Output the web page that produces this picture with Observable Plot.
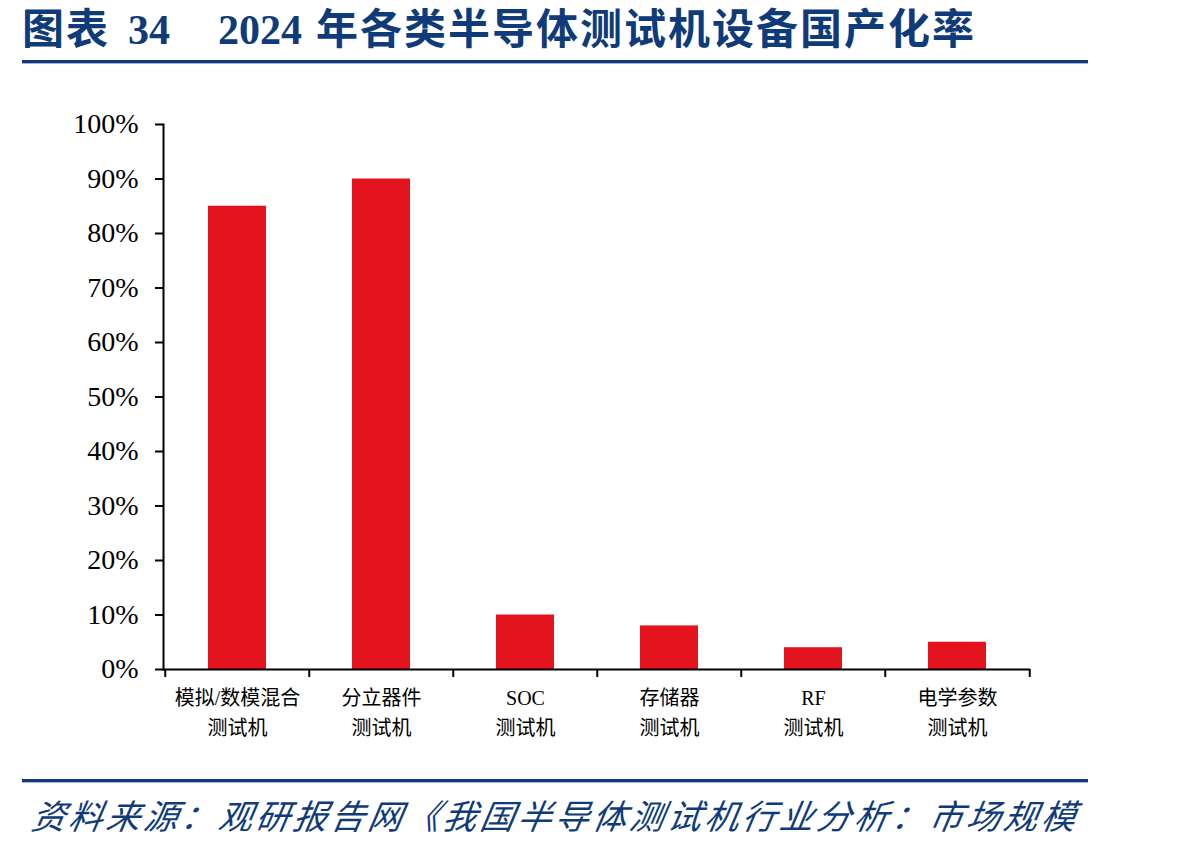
<!DOCTYPE html>
<html>
<head>
<meta charset="utf-8">
<script src="https://cdn.jsdelivr.net/npm/d3@7"></script>
<script src="https://cdn.jsdelivr.net/npm/@observablehq/plot@0.6"></script>
<style>
  body { margin:0; background:#fff; }
  #page { position:relative; width:1198px; height:849px; overflow:hidden; background:#fff; }
  .title { position:absolute; left:22px; top:2px; font-family:"Liberation Serif","Noto Sans CJK SC",serif; font-weight:bold; font-size:42px; color:#0F3B78; white-space:pre; line-height:56px; }
  .title .cjk { letter-spacing:2px; }
  .rule { position:absolute; left:22px; width:1066px; height:3px; background:#0D3A7A; border-bottom:1px solid #A9B8D2; }
  .foot { position:absolute; left:28px; top:790px; font-family:"Noto Sans CJK SC",sans-serif; font-style:italic; font-size:34px; letter-spacing:3.4px; color:#0F3B78; white-space:pre; line-height:50px; transform:skewX(-10deg); transform-origin:left bottom; }
  #chart { position:absolute; left:0; top:80px; }
</style>
</head>
<body>
<div id="page">
  <div class="title"><span class="cjk">图表</span><span style="margin-left:18px">34</span><span style="margin-left:48px">2024</span><span class="cjk" style="margin-left:14px">年各类半导体测试机设备国产化率</span></div>
  <div class="rule" style="top:60px"></div>
  <div id="chart"></div>
  <div class="rule" style="top:779px"></div>
  <div class="foot">资料来源：观研报告网《我国半导体测试机行业分析：市场规模</div>
</div>
<script>
const categories = ["模拟/数模混合\n测试机", "分立器件\n测试机", "SOC\n测试机", "存储器\n测试机", "RF\n测试机", "电学参数\n测试机"];
const values = [0.85, 0.90, 0.10, 0.08, 0.04, 0.05];
const yTicks = [0, 0.1, 0.2, 0.3, 0.4, 0.5, 0.6, 0.7, 0.8, 0.9, 1.0];

const data = categories.map((c, i) => ({cat: c, value: values[i]}));

const W = 1198, ML = 163, MR = 168;
const step = (W - ML - MR) / categories.length;

const chart = Plot.plot({
  width: W,
  height: 670,
  marginLeft: ML,
  marginRight: MR,
  marginTop: 44,
  marginBottom: 81,
  style: {color: "#000", background: "transparent"},
  x: {domain: categories, paddingInner: 0.6, paddingOuter: 0.3, label: null},
  y: {domain: [0, 1], label: null},
  marks: [
    Plot.barY(data, {x: "cat", y: "value", fill: "#E3141E"}),
    Plot.axisY({ticks: yTicks, tickSize: 8, tickPadding: 17, strokeWidth: 2,
      tickFormat: d3.format(".0%"), fontSize: 28, fontFamily: "Liberation Serif, serif", label: null}),
    Plot.frame({anchor: "left", stroke: "#000", strokeWidth: 2}),
    Plot.ruleY([0], {stroke: "#000", strokeWidth: 2}),
    Plot.axisX({tickSize: 8, strokeWidth: 2, text: null, dx: -step / 2, label: null}),
    Plot.axisX({ticks: [categories[categories.length - 1]], tickSize: 8, strokeWidth: 2, text: null, dx: step / 2, label: null}),
    Plot.axisX({tickSize: 0, tickPadding: 14, fontSize: 20, lineHeight: 1.5,
      fontFamily: "Liberation Serif, 'Noto Sans CJK SC', serif", label: null})
  ]
});
document.getElementById("chart").appendChild(chart);
</script>
</body>
</html>
